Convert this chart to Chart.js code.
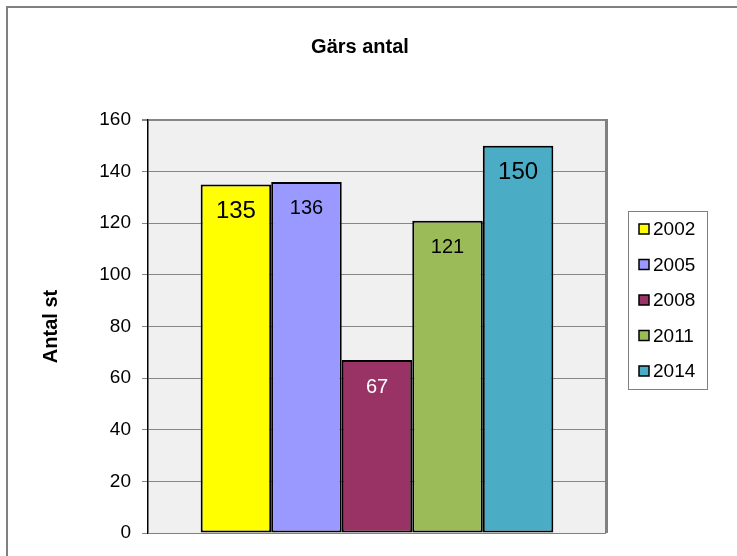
<!DOCTYPE html>
<html>
<head>
<meta charset="utf-8">
<script src="https://cdn.jsdelivr.net/npm/chart.js@4/dist/chart.umd.min.js"></script>
<style>
  html, body { margin: 0; padding: 0; background: #fff; }
</style>
</head>
<body>
<canvas id="gars" width="737" height="556"></canvas>
<script>
const years = ['2002', '2005', '2008', '2011', '2014']
const counts = [135, 136, 67, 121, 150]
const barColors = ['#ffff00', '#9999ff', '#993366', '#9bbb59', '#4bacc6']
const labelColors = ['#000', '#000', '#fff', '#000', '#000']
const labelSizes = [24, 20, 20, 20, 24]
const yMin = 0, yMax = 160, yStep = 20

const FONT = '"Liberation Sans", Arial, sans-serif'

// white page, cut-off outer frame and grey plot background
const frame = {
  id: 'frame',
  beforeDraw(chart) {
    const { ctx, width, height, chartArea: a } = chart
    ctx.save()
    ctx.fillStyle = '#fff'
    ctx.fillRect(0, 0, width, height)
    ctx.strokeStyle = '#808080'
    ctx.lineWidth = 2
    ctx.beginPath()
    ctx.moveTo(7, height)
    ctx.lineTo(7, 7)
    ctx.lineTo(width, 7)
    ctx.stroke()
    ctx.fillStyle = '#f0f0f0'
    ctx.fillRect(a.left, a.top, a.right - a.left, a.bottom - a.top)
    ctx.restore()
  },
  afterDraw(chart) {
    const { ctx, chartArea: a } = chart
    ctx.save()
    ctx.strokeStyle = '#808080'
    ctx.lineWidth = 3
    ctx.beginPath()
    ctx.moveTo(a.right + 0.5, a.top - 1)
    ctx.lineTo(a.right + 0.5, a.bottom)
    ctx.stroke()
    ctx.restore()
  }
}

const floorLine = {
  id: 'floorLine',
  beforeDatasetsDraw(chart) {
    const { ctx, chartArea: a } = chart
    ctx.save()
    ctx.strokeStyle = '#808080'
    ctx.lineWidth = 1
    ctx.beginPath()
    ctx.moveTo(a.left, a.bottom + 0.5)
    ctx.lineTo(a.right, a.bottom + 0.5)
    ctx.stroke()
    ctx.restore()
  }
}

// values written inside the top of each bar
const barValues = {
  id: 'barValues',
  afterDatasetsDraw(chart) {
    const { ctx } = chart
    chart.data.datasets.forEach((ds, i) => {
      const bar = chart.getDatasetMeta(i).data[0]
      ctx.save()
      ctx.font = `${labelSizes[i]}px ${FONT}`
      ctx.fillStyle = labelColors[i]
      ctx.textAlign = 'center'
      ctx.textBaseline = 'middle'
      ctx.fillText(ds.data[0], bar.x, bar.y + 27)
      ctx.restore()
    })
  }
}

// boxed legend like the excel one
const boxLegend = {
  id: 'boxLegend',
  afterDraw(chart) {
    const { ctx } = chart
    const left = 628, top = 211, w = 79, h = 178, rowH = 35.5
    ctx.save()
    ctx.strokeStyle = '#808080'
    ctx.lineWidth = 1
    ctx.strokeRect(left + 0.5, top + 0.5, w, h)
    ctx.font = `19px ${FONT}`
    ctx.textBaseline = 'middle'
    chart.data.datasets.forEach((ds, i) => {
      const cy = top + 18 + i * rowH
      ctx.fillStyle = ds.backgroundColor
      ctx.fillRect(639, cy - 5, 10, 10)
      ctx.strokeStyle = '#000'
      ctx.lineWidth = 1.5
      ctx.strokeRect(639, cy - 5, 10, 10)
      ctx.fillStyle = '#000'
      ctx.fillText(ds.label, 653, cy + 1)
    })
    ctx.restore()
  }
}

new Chart(document.getElementById('gars'), {
  type: 'bar',
  data: {
    labels: [''],
    datasets: years.map((y, i) => ({
      label: y,
      data: [counts[i]],
      backgroundColor: barColors[i],
      borderColor: '#000',
      borderWidth: 2,
      borderSkipped: false,
      categoryPercentage: 0.77,
      barPercentage: 1
    }))
  },
  options: {
    responsive: false,
    animation: false,
    devicePixelRatio: 1,
    layout: { padding: { left: 0, right: 17, top: 0, bottom: 23 } },
    plugins: {
      legend: { display: false },
      tooltip: { enabled: false },
      title: {
        display: true,
        text: 'Gärs antal',
        color: '#000',
        font: { family: FONT, size: 20, weight: 'bold' },
        padding: { top: 35, bottom: 61 }
      }
    },
    scales: {
      x: { display: false },
      y: {
        min: yMin,
        max: yMax,
        ticks: { stepSize: yStep, color: '#000', font: { family: FONT, size: 19 }, padding: 11 },
        grid: {
          color: '#868686',
          lineWidth: c => (c.tick && c.tick.value === yMax ? 2 : 1),
          tickLength: 6
        },
        border: { color: '#000', width: 1.5 },
        title: {
          display: true,
          text: 'Antal st',
          color: '#000',
          font: { family: FONT, size: 20, weight: 'bold' },
          padding: { top: 39, bottom: 0 }
        },
        afterFit(scale) { scale.width = 148 }
      },
      // empty right-hand axis that keeps room for the legend box
      legendSpace: {
        position: 'right',
        min: yMin,
        max: yMax,
        ticks: { display: false },
        grid: { display: false, drawTicks: false },
        border: { display: false },
        afterFit(scale) { scale.width = 114 }
      }
    }
  },
  plugins: [frame, floorLine, barValues, boxLegend]
})
</script>
</body>
</html>
